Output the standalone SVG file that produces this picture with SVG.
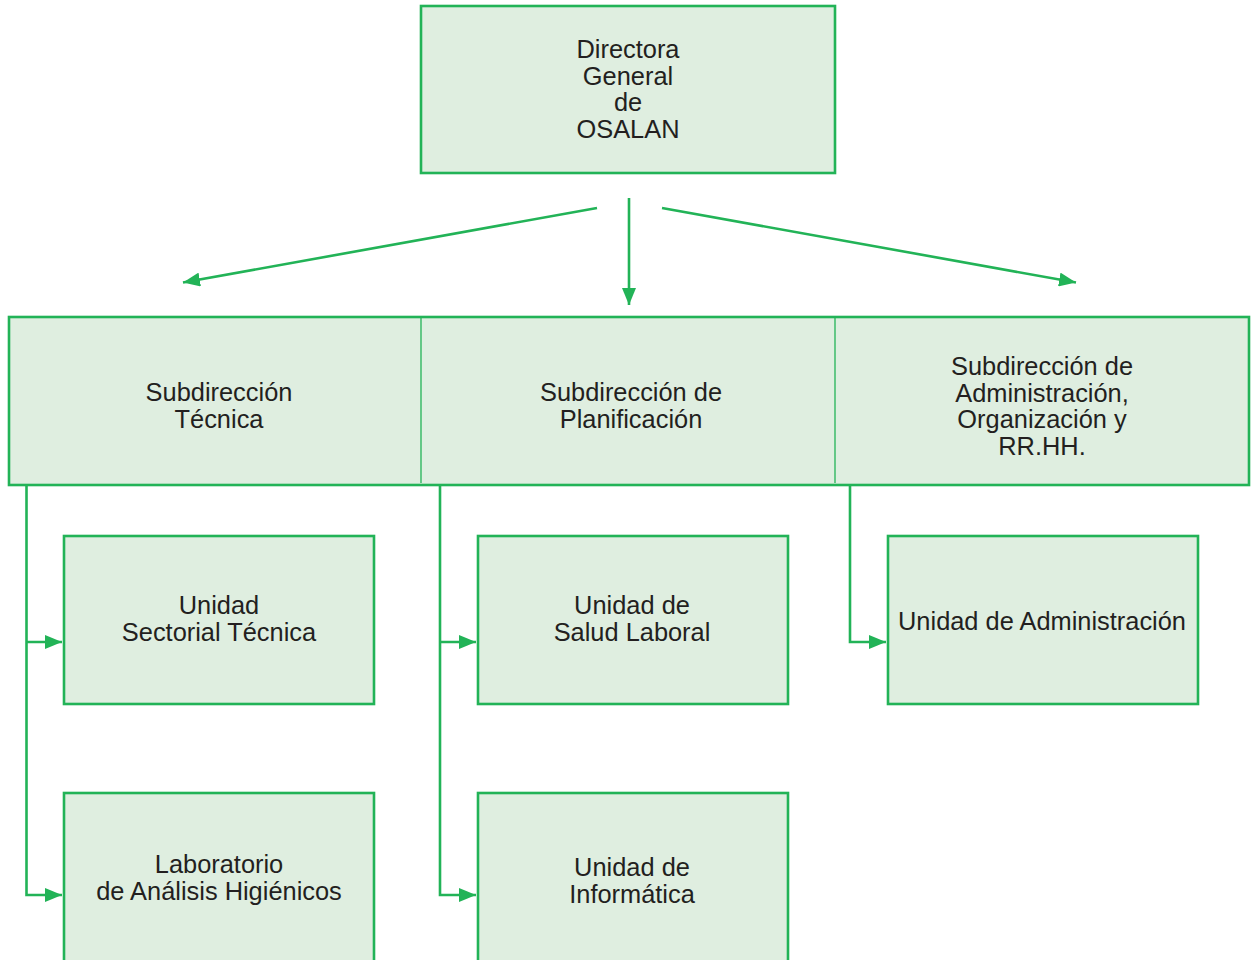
<svg xmlns="http://www.w3.org/2000/svg" width="1252" height="960" viewBox="0 0 1252 960">
<defs>
<style>
.box{fill:#dfeee0;stroke:#22b357;stroke-width:2.6}
.div{stroke:#22b357;stroke-width:1.3}
.con{fill:none;stroke:#22b357;stroke-width:2.6}
text{font-family:"Liberation Sans",Arial,Helvetica,sans-serif;font-size:25.4px;fill:#231f20;text-anchor:middle}
</style>
<marker id="ah" markerUnits="userSpaceOnUse" markerWidth="17" markerHeight="14" refX="17" refY="7" orient="auto">
<path d="M0,0 L17,7 L0,14 z" fill="#22b357"/>
</marker>
</defs>
<rect width="1252" height="960" fill="#ffffff"/>

<g id="connectors">
<line class="con" x1="629" y1="198" x2="629" y2="305" marker-end="url(#ah)"/>
<line class="con" x1="597" y1="208" x2="183" y2="282.5" marker-end="url(#ah)"/>
<line class="con" x1="662" y1="208" x2="1076" y2="282.5" marker-end="url(#ah)"/>
<polyline class="con" points="26.5,485 26.5,895 62,895" marker-end="url(#ah)"/>
<line class="con" x1="26.5" y1="642" x2="62" y2="642" marker-end="url(#ah)"/>
<polyline class="con" points="440,485 440,895 476,895" marker-end="url(#ah)"/>
<line class="con" x1="440" y1="642" x2="476" y2="642" marker-end="url(#ah)"/>
<polyline class="con" points="850,485 850,642 886,642" marker-end="url(#ah)"/>
</g>

<g id="directora">
<rect class="box" x="421" y="6" width="414" height="167"/>
<text x="628" y="58">Directora</text>
<text x="628" y="85">General</text>
<text x="628" y="111">de</text>
<text x="628" y="138">OSALAN</text>
</g>

<g id="band">
<rect class="box" x="9" y="317" width="1240" height="168"/>
<line class="div" x1="421" y1="318" x2="421" y2="483"/>
<line class="div" x1="835" y1="318" x2="835" y2="483"/>
</g>

<g id="sub-tecnica">
<text x="219" y="401">Subdirección</text>
<text x="219" y="428">Técnica</text>
</g>

<g id="sub-planificacion">
<text x="631" y="401">Subdirección de</text>
<text x="631" y="428">Planificación</text>
</g>

<g id="sub-administracion">
<text x="1042" y="375">Subdirección de</text>
<text x="1042" y="402">Administración,</text>
<text x="1042" y="428">Organización y</text>
<text x="1042" y="455">RR.HH.</text>
</g>

<g id="unidad-sectorial">
<rect class="box" x="64" y="536" width="310" height="168"/>
<text x="219" y="614">Unidad</text>
<text x="219" y="641">Sectorial Técnica</text>
</g>

<g id="laboratorio">
<rect class="box" x="64" y="793" width="310" height="180"/>
<text x="219" y="873">Laboratorio</text>
<text x="219" y="900">de Análisis Higiénicos</text>
</g>

<g id="salud-laboral">
<rect class="box" x="478" y="536" width="310" height="168"/>
<text x="632" y="614">Unidad de</text>
<text x="632" y="641">Salud Laboral</text>
</g>

<g id="informatica">
<rect class="box" x="478" y="793" width="310" height="180"/>
<text x="632" y="876">Unidad de</text>
<text x="632" y="903">Informática</text>
</g>

<g id="unidad-administracion">
<rect class="box" x="888" y="536" width="310" height="168"/>
<text x="1042" y="630">Unidad de Administración</text>
</g>
</svg>
